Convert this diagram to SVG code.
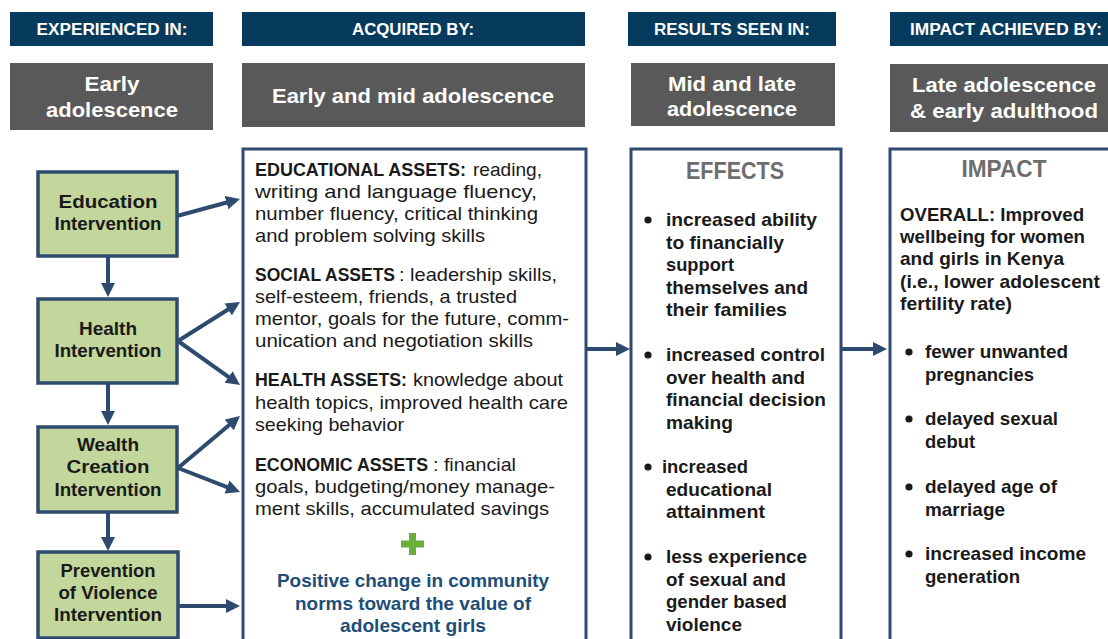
<svg xmlns="http://www.w3.org/2000/svg" width="1108" height="639" viewBox="0 0 1108 639">
<style>
text{font-family:"Liberation Sans Narrow","Liberation Sans",Arial,sans-serif}
.hdr{fill:#073b5e}
.hdrt{fill:#fff;font-weight:bold;font-size:16px;text-anchor:middle}
.age{fill:#595959}
.aget{fill:#fff;font-weight:bold;font-size:21px;text-anchor:middle}
.box{fill:#fff;stroke:#2e4b6f;stroke-width:3}
.node{fill:#c3d69b;stroke:#2e4b6f;stroke-width:3.5}
.nt{fill:#1a1a1a;font-weight:bold;font-size:19px;text-anchor:middle}
.bt{fill:#1a1a1a;font-size:19px}
.b{font-weight:bold}
.ct{fill:#1d4e78;font-weight:bold;font-size:19px;text-anchor:middle}
.ttl{fill:#6d6d6d;font-weight:bold;font-size:23px;text-anchor:middle}
.et{fill:#1a1a1a;font-weight:bold;font-size:19px}
.dot{fill:#1a1a1a}
.plus{fill:#6cae3e}
.conn line{stroke:#2e4b6f;stroke-width:4;marker-end:url(#ah)}
</style>
<defs>
<marker id="ah" markerUnits="userSpaceOnUse" markerWidth="14" markerHeight="14" viewBox="0 0 14 14" refX="5" refY="7" orient="auto"><path d="M0,0 L14,7 L0,14 z" fill="#2e4b6f"/></marker>
</defs>
<rect width="1108" height="639" fill="#fff"/>

<g id="hdr-experienced"><rect class="hdr" x="10" y="12" width="203" height="34"/><text class="hdrt" x="112" y="35" textLength="151" lengthAdjust="spacingAndGlyphs">EXPERIENCED IN:</text></g>
<g id="hdr-acquired"><rect class="hdr" x="242" y="12" width="343" height="34"/><text class="hdrt" x="413" y="35" textLength="122" lengthAdjust="spacingAndGlyphs">ACQUIRED BY:</text></g>
<g id="hdr-results"><rect class="hdr" x="628" y="12" width="208" height="34"/><text class="hdrt" x="732" y="35" textLength="156" lengthAdjust="spacingAndGlyphs">RESULTS SEEN IN:</text></g>
<g id="hdr-impact"><rect class="hdr" x="890" y="12" width="220" height="34"/><text class="hdrt" x="1006" y="35" textLength="192" lengthAdjust="spacingAndGlyphs">IMPACT ACHIEVED BY:</text></g>

<g id="age-early"><rect class="age" x="10" y="63" width="203" height="67"/><text class="aget" x="112" y="91" textLength="55" lengthAdjust="spacingAndGlyphs">Early</text><text class="aget" x="112" y="117" textLength="132" lengthAdjust="spacingAndGlyphs">adolescence</text></g>
<g id="age-earlymid"><rect class="age" x="242" y="63" width="343" height="64"/><text class="aget" x="413" y="103" textLength="282" lengthAdjust="spacingAndGlyphs">Early and mid adolescence</text></g>
<g id="age-midlate"><rect class="age" x="631" y="63" width="204" height="63"/><text class="aget" x="732" y="91" textLength="128" lengthAdjust="spacingAndGlyphs">Mid and late</text><text class="aget" x="732" y="116" textLength="130" lengthAdjust="spacingAndGlyphs">adolescence</text></g>
<g id="age-late"><rect class="age" x="890" y="64" width="220" height="68"/><text class="aget" x="1004" y="92" textLength="184" lengthAdjust="spacingAndGlyphs">Late adolescence</text><text class="aget" x="1004" y="118" textLength="188" lengthAdjust="spacingAndGlyphs">&amp; early adulthood</text></g>

<g id="node-education"><rect class="node" x="38" y="172" width="139" height="84"/><text class="nt" x="108" y="208" textLength="99" lengthAdjust="spacingAndGlyphs">Education</text><text class="nt" x="108" y="230" textLength="107" lengthAdjust="spacingAndGlyphs">Intervention</text></g>
<g id="node-health"><rect class="node" x="38" y="299" width="139" height="84"/><text class="nt" x="108" y="335" textLength="58" lengthAdjust="spacingAndGlyphs">Health</text><text class="nt" x="108" y="357" textLength="107" lengthAdjust="spacingAndGlyphs">Intervention</text></g>
<g id="node-wealth"><rect class="node" x="38" y="427" width="139" height="85"/><text class="nt" x="108" y="451" textLength="62" lengthAdjust="spacingAndGlyphs">Wealth</text><text class="nt" x="108" y="473" textLength="83" lengthAdjust="spacingAndGlyphs">Creation</text><text class="nt" x="108" y="496" textLength="107" lengthAdjust="spacingAndGlyphs">Intervention</text></g>
<g id="node-prevention"><rect class="node" x="38" y="552" width="140" height="86"/><text class="nt" x="108" y="577" textLength="95" lengthAdjust="spacingAndGlyphs">Prevention</text><text class="nt" x="108" y="599" textLength="99" lengthAdjust="spacingAndGlyphs">of Violence</text><text class="nt" x="108" y="621" textLength="108" lengthAdjust="spacingAndGlyphs">Intervention</text></g>

<g id="node-assets">
<rect class="box" x="243" y="149" width="343" height="520"/>
<text class="bt b" x="255" y="175.5" textLength="211" lengthAdjust="spacingAndGlyphs">EDUCATIONAL ASSETS:</text>
<text class="bt" x="473" y="175.5" textLength="69" lengthAdjust="spacingAndGlyphs">reading,</text>
<text class="bt" x="255" y="197.5" textLength="282" lengthAdjust="spacingAndGlyphs">writing and language fluency,</text>
<text class="bt" x="255" y="220" textLength="283" lengthAdjust="spacingAndGlyphs">number fluency, critical thinking</text>
<text class="bt" x="255" y="242" textLength="230" lengthAdjust="spacingAndGlyphs">and problem solving skills</text>
<text class="bt b" x="255" y="281" textLength="140" lengthAdjust="spacingAndGlyphs">SOCIAL ASSETS</text>
<text class="bt" x="399" y="281" textLength="158" lengthAdjust="spacingAndGlyphs">: leadership skills,</text>
<text class="bt" x="255" y="303" textLength="262" lengthAdjust="spacingAndGlyphs">self-esteem, friends, a trusted</text>
<text class="bt" x="255" y="325" textLength="314" lengthAdjust="spacingAndGlyphs">mentor, goals for the future, comm-</text>
<text class="bt" x="255" y="347" textLength="278" lengthAdjust="spacingAndGlyphs">unication and negotiation skills</text>
<text class="bt b" x="255" y="386" textLength="152" lengthAdjust="spacingAndGlyphs">HEALTH ASSETS:</text>
<text class="bt" x="413" y="386" textLength="150" lengthAdjust="spacingAndGlyphs">knowledge about</text>
<text class="bt" x="255" y="409" textLength="313" lengthAdjust="spacingAndGlyphs">health topics, improved health care</text>
<text class="bt" x="255" y="431" textLength="149" lengthAdjust="spacingAndGlyphs">seeking behavior</text>
<text class="bt b" x="255" y="471" textLength="173" lengthAdjust="spacingAndGlyphs">ECONOMIC ASSETS</text>
<text class="bt" x="433" y="471" textLength="83" lengthAdjust="spacingAndGlyphs">: financial</text>
<text class="bt" x="255" y="493" textLength="300" lengthAdjust="spacingAndGlyphs">goals, budgeting/money manage-</text>
<text class="bt" x="255" y="515" textLength="294" lengthAdjust="spacingAndGlyphs">ment skills, accumulated savings</text>
<rect class="plus" x="401" y="540.5" width="23" height="7"/>
<rect class="plus" x="409" y="533" width="7" height="22"/>
<text class="ct" x="413" y="587" textLength="272" lengthAdjust="spacingAndGlyphs">Positive change in community</text>
<text class="ct" x="413" y="610" textLength="236" lengthAdjust="spacingAndGlyphs">norms toward the value of</text>
<text class="ct" x="413" y="632" textLength="146" lengthAdjust="spacingAndGlyphs">adolescent girls</text>
</g>

<g id="node-effects">
<rect class="box" x="631" y="149" width="210" height="520"/>
<text class="ttl" x="735" y="179" textLength="98" lengthAdjust="spacingAndGlyphs">EFFECTS</text>
<circle class="dot" cx="648" cy="220" r="3.6"/>
<text class="et" x="666" y="226" textLength="151" lengthAdjust="spacingAndGlyphs">increased ability</text>
<text class="et" x="666" y="248.5" textLength="118" lengthAdjust="spacingAndGlyphs">to financially</text>
<text class="et" x="666" y="271" textLength="68" lengthAdjust="spacingAndGlyphs">support</text>
<text class="et" x="666" y="293.5" textLength="142" lengthAdjust="spacingAndGlyphs">themselves and</text>
<text class="et" x="666" y="316" textLength="121" lengthAdjust="spacingAndGlyphs">their families</text>
<circle class="dot" cx="648" cy="355" r="3.6"/>
<text class="et" x="666" y="361" textLength="159" lengthAdjust="spacingAndGlyphs">increased control</text>
<text class="et" x="666" y="383.5" textLength="139" lengthAdjust="spacingAndGlyphs">over health and</text>
<text class="et" x="666" y="406" textLength="160" lengthAdjust="spacingAndGlyphs">financial decision</text>
<text class="et" x="666" y="428.5" textLength="67" lengthAdjust="spacingAndGlyphs">making</text>
<circle class="dot" cx="648" cy="467" r="3.6"/>
<text class="et" x="662" y="473" textLength="86" lengthAdjust="spacingAndGlyphs">increased</text>
<text class="et" x="666" y="495.5" textLength="106" lengthAdjust="spacingAndGlyphs">educational</text>
<text class="et" x="666" y="518" textLength="99" lengthAdjust="spacingAndGlyphs">attainment</text>
<circle class="dot" cx="648" cy="557" r="3.6"/>
<text class="et" x="666" y="563" textLength="141" lengthAdjust="spacingAndGlyphs">less experience</text>
<text class="et" x="666" y="585.5" textLength="120" lengthAdjust="spacingAndGlyphs">of sexual and</text>
<text class="et" x="666" y="608" textLength="121" lengthAdjust="spacingAndGlyphs">gender based</text>
<text class="et" x="666" y="630.5" textLength="76" lengthAdjust="spacingAndGlyphs">violence</text>
</g>

<g id="node-impact">
<rect class="box" x="890" y="149" width="240" height="520"/>
<text class="ttl" x="1004" y="177" textLength="85" lengthAdjust="spacingAndGlyphs">IMPACT</text>
<text class="et" x="900" y="221" textLength="184" lengthAdjust="spacingAndGlyphs">OVERALL:  Improved</text>
<text class="et" x="900" y="243" textLength="185" lengthAdjust="spacingAndGlyphs">wellbeing for women</text>
<text class="et" x="900" y="265" textLength="164" lengthAdjust="spacingAndGlyphs">and girls in Kenya</text>
<text class="et" x="900" y="287.5" textLength="200" lengthAdjust="spacingAndGlyphs">(i.e., lower adolescent</text>
<text class="et" x="900" y="310" textLength="112" lengthAdjust="spacingAndGlyphs">fertility rate)</text>
<circle class="dot" cx="909" cy="352" r="3.6"/>
<text class="et" x="925" y="358" textLength="143" lengthAdjust="spacingAndGlyphs">fewer unwanted</text>
<text class="et" x="925" y="380.5" textLength="109" lengthAdjust="spacingAndGlyphs">pregnancies</text>
<circle class="dot" cx="909" cy="419" r="3.6"/>
<text class="et" x="925" y="425" textLength="133" lengthAdjust="spacingAndGlyphs">delayed sexual</text>
<text class="et" x="925" y="447.5" textLength="50" lengthAdjust="spacingAndGlyphs">debut</text>
<circle class="dot" cx="909" cy="487" r="3.6"/>
<text class="et" x="925" y="493" textLength="132" lengthAdjust="spacingAndGlyphs">delayed age of</text>
<text class="et" x="925" y="515.5" textLength="80" lengthAdjust="spacingAndGlyphs">marriage</text>
<circle class="dot" cx="909" cy="554" r="3.6"/>
<text class="et" x="925" y="560" textLength="161" lengthAdjust="spacingAndGlyphs">increased income</text>
<text class="et" x="925" y="582.5" textLength="95" lengthAdjust="spacingAndGlyphs">generation</text>
</g>

<g id="connectors" class="conn">
<line x1="177" y1="216" x2="231.3" y2="201.3"/>
<line x1="178" y1="341" x2="232.4" y2="306.8"/>
<line x1="178" y1="341" x2="232.7" y2="379.8"/>
<line x1="178" y1="468" x2="233.1" y2="421.8"/>
<line x1="178" y1="468" x2="231.6" y2="488.8"/>
<line x1="178" y1="606" x2="231" y2="606"/>
<line x1="108" y1="257" x2="108" y2="288"/>
<line x1="108" y1="384" x2="108" y2="416"/>
<line x1="108" y1="513" x2="108" y2="542"/>
<line x1="586" y1="349" x2="621" y2="349"/>
<line x1="842" y1="349" x2="878" y2="349"/>
</g>
</svg>
